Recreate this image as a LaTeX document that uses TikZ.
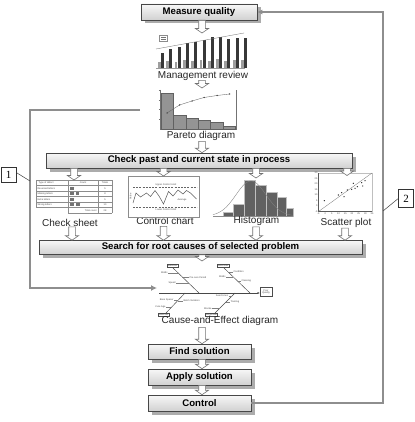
\documentclass[tikz,border=0pt]{standalone}
\usepackage{fontspec}
\setmainfont{Liberation Serif}
\newfontfamily\sansf{Liberation Sans}
\usetikzlibrary{shadows,arrows.meta,calc}

\definecolor{loopgray}{HTML}{8E8E8E}
\definecolor{boxedge}{HTML}{474747}

\tikzset{
  stagebox/.style={draw=boxedge, line width=0.6pt, top color=black!3, bottom color=black!18,
    minimum height=15pt, inner sep=0pt,
    font=\sansf\bfseries\fontsize{9.6}{11}\selectfont,
    drop shadow={shadow xshift=3.5pt, shadow yshift=-3.5pt, fill=black!38, opacity=0.85}},
  caption/.style={font=\sansf\fontsize{10}{12}\selectfont, text=black!85, inner sep=0pt},
  chartarea/.style={inner sep=0pt, outer sep=0pt},
  feedback/.style={draw=loopgray, line width=2.2pt},
  blockarrow/.style={draw=black!55, fill=white, line width=0.6pt},
  tag/.style={draw=black!80, line width=0.5pt, font=\fontsize{11}{12}\selectfont,
    minimum width=15pt, minimum height=15pt, inner sep=0pt},
  tiny/.style={font=\sansf\fontsize{2.4}{2.8}\selectfont, inner sep=0.3pt, text=black!70},
  tinybox/.style={tiny, draw=black!70, line width=0.3pt, inner sep=0.6pt, fill=white},
  gridline/.style={draw=black!45, line width=0.3pt},
  tallymark/.style={draw=black!55, line width=0.18pt},
  bone/.style={draw=black!72, line width=0.45pt},
  twig/.style={draw=black!50, line width=0.3pt},
}

% hollow block arrow pointing down: x taken from #1, from y of #1 to y of #2
\newcommand{\blockarrowdown}[2]{%
  \draw[blockarrow] let \p1=#1, \p2=#2 in
    (\x1-3.3pt,\y1) -- (\x1+3.3pt,\y1) -- (\x1+3.3pt,\y2+4.5pt) -- (\x1+6.6pt,\y2+4.5pt)
    -- (\x1,\y2) -- (\x1-6.6pt,\y2+4.5pt) -- (\x1-3.3pt,\y2+4.5pt) -- cycle;}

% one tally group of five at (#1,#2)
\newcommand{\tallyfive}[2]{%
  \foreach \k in {0,...,3} \draw[tallymark] ({#1+\k*1.0},{#2-1.4}) -- ({#1+\k*1.0},{#2+1.4});
  \draw[tallymark] ({#1-0.5},{#2+1.1}) -- ({#1+3.5},{#2-1.1});}

\begin{document}
\begin{tikzpicture}[x=1pt,y=-1pt]
\useasboundingbox (0,0) rectangle (414,422);
\fill[white] (0,0) rectangle (414,422);

% ---------- stage boxes ----------
\node[stagebox, minimum width=116pt, minimum height=16pt] (measure) at (199,12) {Measure quality};
\node[stagebox, minimum width=306pt] (check) at (199,160.5) {Check past and current state in process};
\node[stagebox, minimum width=323pt, minimum height=14pt] (search) at (200.5,247.5) {Search for root causes of selected problem};
\node[stagebox, minimum width=103pt] (find) at (199.5,351.5) {Find solution};
\node[stagebox, minimum width=103pt, minimum height=16pt] (apply) at (199.5,377) {Apply solution};
\node[stagebox, minimum width=103pt, minimum height=16pt] (control) at (199.5,403) {Control};

% ---------- management review bar chart ----------
\node[chartarea, minimum width=90pt, minimum height=35pt] (mgmt) at (200,50.5) {};
\draw[black!40, line width=0.3pt] (156,68) -- (245,68);
\draw[black!45, line width=0.25pt] (159.5,35.5) rectangle (167,41.5);
\draw[black!55, line width=0.3pt] (161,37.5) -- (165.5,37.5) (161,39.5) -- (165.5,39.5);
\foreach \d/\l [count=\i from 0] in {53/62,49/61,47/62,43/60,42/61,40/60,37/61,37/59,39/61,38/60,38/60} {
  \fill[black!38] ({158+8.3*\i},68) rectangle ({158+8.3*\i+2.8},\l);
  \fill[black!78] ({158+8.3*\i+3},68) rectangle ({158+8.3*\i+6},\d);
}
\draw[black!55, line width=0.35pt] (156,49) -- (244,33);
\node[caption] (mgmtcap) at (203,75.5) {Management review};

% ---------- Pareto diagram ----------
\node[chartarea, minimum width=80pt, minimum height=42pt] (pareto) at (197,109) {};
\draw[black!55, line width=0.3pt] (160,90) -- (160,129) -- (236,129) -- (236,90);
\foreach \t in {90,99.75,109.5,119.25} {
  \draw[black!55, line width=0.3pt] (158.8,\t) -- (160,\t) (236,\t) -- (237.2,\t);
}
\foreach \a/\b/\t in {161/173.5/93, 173.5/186/115, 186/198/118, 198/210.5/120, 210.5/223/122, 223/235.5/126}
  \filldraw[fill=black!42, draw=black!62, line width=0.3pt] (\a,129) rectangle (\b,\t);
\draw[black!60, line width=0.35pt] (167,113) -- (179.5,105) -- (192,101) -- (204,97.5) -- (217,95.5) -- (229.5,94);
\foreach \p in {(167,113),(179.5,105),(192,101),(204,97.5),(217,95.5),(229.5,94)}
  \fill[black!75] \p circle (0.75);
\node[caption] (paretocap) at (201,136) {Pareto diagram};

% ---------- check sheet ----------
\node[chartarea, minimum width=76pt, minimum height=33pt] (sheet) at (74,196.5) {};
\foreach \r in {180,185.5,191,196.5,202,207.5}
  \draw[gridline] (36,\r) -- (112,\r);
\draw[gridline] (36,180) -- (36,207.5) (68,180) -- (68,207.5);
\draw[gridline] (98,180) -- (98,213) (112,180) -- (112,213) (68,213) -- (112,213) (68,207.5) -- (68,213);
\node[tiny, anchor=west] at (38,182.75) {Type of defect};
\node[tiny] at (83,182.75) {Count};
\node[tiny] at (105,182.75) {Totals};
\node[tiny, anchor=west] at (37,188.25) {Reversed letters};
\node[tiny, anchor=west] at (37,193.75) {Missing letters};
\node[tiny, anchor=west] at (37,199.25) {Extra letters};
\node[tiny, anchor=west] at (37,204.75) {Wrong letters};
\tallyfive{70.5}{188.25}
\tallyfive{70.5}{193.75}
\foreach \k in {0,1,2} \draw[tallymark] ({76.5+\k*1.0},192.35) -- ({76.5+\k*1.0},195.15);
\tallyfive{70.5}{199.25}
\tallyfive{70.5}{204.75}
\tallyfive{76.5}{204.75}
\node[tiny] at (105,188.25) {5};
\node[tiny] at (105,193.75) {8};
\node[tiny] at (105,199.25) {5};
\node[tiny] at (105,204.75) {10};
\node[tiny, anchor=east] at (97,210.25) {Total count};
\node[tiny] at (105,210.25) {28};
\node[caption] (sheetcap) at (70,222.5) {Check sheet};

% ---------- control chart ----------
\node[caption] (ctrlcap) at (165,221) {Control chart};
\node[chartarea, draw=black!45, fill=white, line width=0.4pt, minimum width=71pt, minimum height=41pt] (ctrl) at (163.5,196.5) {};
\draw[black!60, line width=0.5pt, dash pattern=on 2pt off 1.2pt] (133,187) -- (197,187) (133,207.5) -- (197,207.5);
\node[tiny] at (166,184.6) {Upper Control Limit};
\node[tiny] at (166,209.9) {Lower Control Limit};
\node[tiny] at (182,199.8) {Average};
\node[tiny, rotate=90] at (130.5,196.5) {Value};
\draw[black!65, line width=0.5pt] (133,203) -- (136,193) -- (140.5,197) -- (146.5,193) -- (150.5,196.5)
  -- (155,190.5) -- (159,196) -- (163.5,204) -- (168.5,191.5) -- (173,196) -- (178,190)
  -- (183,194) -- (186.5,190.5) -- (190.5,193) -- (196.5,199);

% ---------- histogram ----------
\node[chartarea, minimum width=80pt, minimum height=37pt] (hist) at (253,198.5) {};
\foreach \a/\b/\t in {223/233.5/212, 233.5/244.5/204, 244.5/255.5/180, 255.5/266.5/185.5, 266.5/277.5/192, 277.5/286.5/197, 286.5/293/208}
  \filldraw[fill=black!62, draw=black!25, line width=0.3pt] (\a,216) rectangle (\b,\t);
\draw[black!45, line width=0.3pt] (213,216) -- (293,216);
\draw[black!50, line width=0.35pt] plot[domain=213:293, samples=60] (\x,{216-35*exp(-((\x-251)^2)/(2*15^2))});
\node[caption] (histcap) at (256.5,220.5) {Histogram};

% ---------- scatter plot ----------
\node[chartarea, minimum width=58pt, minimum height=40pt] (scatter) at (345,192.5) {};
\draw[black!25, line width=0.3pt] (318.5,173) rectangle (372,211.5);
\draw[black!65, line width=0.35pt] (318.5,173) -- (318.5,211.5) -- (372,211.5);
\draw[black!55, line width=0.3pt] (318.5,211.5) -- (372,173);
\foreach \v [count=\i from 0] in {-5,0,5,10,15,20,25,30}
  \node[tiny, anchor=east, inner sep=0.4pt] at (318,{211.5-5.5*\i}) {\v};
\foreach \v [count=\i from 0] in {-5,0,5,10,15,20,25,30,35}
  \node[tiny, anchor=north, inner sep=0.4pt] at ({318.5+6.69*\i},212) {\v};
\foreach \p in {(324.3,200.7),(338.3,195),(341.7,192.7),(344,196.7),(347.3,190),(351.7,189.3),
                (355,188.3),(357.3,186.7),(353.3,183.3),(362.7,186),(365,180.7),(361.7,182.7)}
  \fill[black!85] \p circle (0.7);
\node[caption] (scattercap) at (346,222.7) {Scatter plot};

% ---------- cause-and-effect diagram ----------
\node[chartarea, minimum width=118pt, minimum height=56pt] (fish) at (215,288) {};
\node[tinybox, align=center, minimum width=11.5pt, minimum height=9pt, line width=0.5pt] (effect) at (266,292) {Poor\\Quality};
\draw[bone, -{Latex[length=2.5pt,width=2pt]}] (159,293) -- (effect.west |- 0,293);
\draw[bone] (173,268) -- (199,293);
\draw[bone] (224,268) -- (250,293);
\draw[bone] (185,293) -- (166,313);
\draw[bone] (235,293) -- (215,313);
\node[tinybox] (methods) at (172.5,265.5) {Methods};
\node[tinybox] (machines) at (223.3,265.5) {Machines};
\node[tinybox] (materials) at (163.5,314.7) {Materials};
\node[tinybox] (manpower) at (211.3,314.7) {Manpower};
% causes on the upper bones
\draw[twig] (168,273) -- (178.2,273);   \node[tiny, anchor=east] at (168,273) {Molds};
\draw[twig] (182.4,277.5) -- (189,277.5); \node[tiny, anchor=west] at (189,277.5) {Pre-cure Period};
\draw[twig] (176,283) -- (188.6,283);   \node[tiny, anchor=east] at (176,283) {Speed};
\draw[twig] (228,272) -- (233,272);     \node[tiny, anchor=west] at (233,272) {Condition};
\draw[twig] (226,277) -- (233.4,277);   \node[tiny, anchor=east] at (226,277) {Molds};
\draw[twig] (237.5,281) -- (241,281);   \node[tiny, anchor=west] at (241,281) {Cleaning};
% causes on the lower bones
\draw[twig] (174,300) -- (178.4,300);   \node[tiny, anchor=east] at (174,300) {Base Spacer};
\draw[twig] (178,300.8) -- (183,300.8); \node[tiny, anchor=west] at (183,300.8) {Batch Variation};
\draw[twig] (166,307.3) -- (171.7,307.3); \node[tiny, anchor=east] at (166,307.3) {Cure Age};
\draw[twig] (228.5,296) -- (232,296);   \node[tiny, anchor=east] at (228.5,296) {Seed Lines};
\draw[twig] (226,302.3) -- (230,302.3); \node[tiny, anchor=west] at (230,302.3) {Training};
\draw[twig] (212,308.3) -- (220,308.3); \node[tiny, anchor=east] at (212,308.3) {Morale};
\node[caption] (fishcap) at (220,321) {Cause-and-Effect diagram};

% ---------- flow arrows ----------
\blockarrowdown{($(measure.south)+(3,0)$)}{(mgmt.north)}
\blockarrowdown{($(mgmtcap.south)+(-1,0)$)}{(pareto.north)}
\blockarrowdown{($(paretocap.south)+(1,0.5)$)}{(check.north)}
\blockarrowdown{(sheet.north |- check.south)}{(sheet.north)}
\blockarrowdown{(ctrl.north |- check.south)}{(ctrl.north)}
\blockarrowdown{($(hist.north |- check.south)+(3,0)$)}{($(hist.north)+(0,-2)$)}
\blockarrowdown{($(scatter.north |- check.south)+(2,0)$)}{($(scatter.north)+(0,3)$)}
\blockarrowdown{($(sheet.south |- sheetcap.south)+(-2,0.5)$)}{(search.north)}
\blockarrowdown{($(ctrl.south |- ctrlcap.south)+(0,1.5)$)}{(search.north)}
\blockarrowdown{($(hist.south |- histcap.south)+(3,1.5)$)}{(search.north)}
\blockarrowdown{($(scatter.south |- scattercap.south)+(0,0.5)$)}{(search.north)}
\blockarrowdown{($(search.south)+(1.5,0)$)}{($(fish.north)+(0,1)$)}
\blockarrowdown{($(fishcap.south)+(-18,1.5)$)}{(find.north)}
\blockarrowdown{($(find.south)+(2.5,0)$)}{(apply.north)}
\blockarrowdown{($(apply.south)+(2.5,0)$)}{(control.north)}

% ---------- feedback loops ----------
\coordinate (ltop) at (140,110);
\coordinate (lcornertop) at (30,110);
\coordinate (lcornerbot) at (30,288);
\coordinate (fishin) at (157,288);
\draw[feedback, -{Latex[length=6pt,width=6pt]}] (ltop) -- (lcornertop) -- (lcornerbot) -- (fishin);
\coordinate (rcorner) at (383,12);
\draw[feedback, -{Latex[length=5pt,width=5pt]}] (control.east) -| (rcorner) -- (measure.east);

% ---------- loop tags ----------
\node[tag] (tag1) at (8.5,174.5) {1};
\coordinate (tag1end) at (30,181);
\draw[black!75, line width=0.5pt] (tag1.east |- 0,172.5) -- (tag1end);
\node[tag, minimum height=18pt] (tag2) at (406,198.5) {2};
\coordinate (tag2end) at (383,211);
\draw[black!75, line width=0.5pt] (tag2.west) -- (tag2end);
\end{tikzpicture}
\end{document}
